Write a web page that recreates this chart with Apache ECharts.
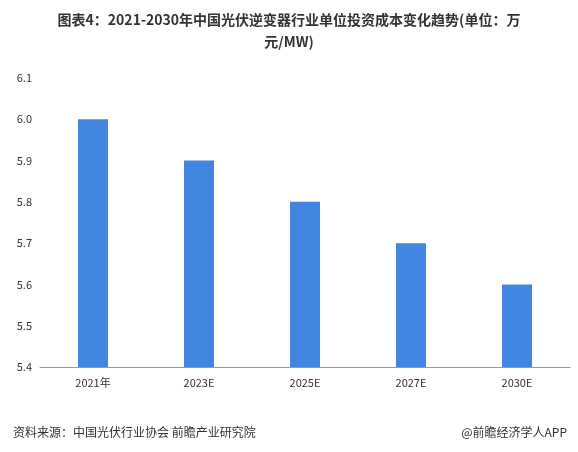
<!DOCTYPE html>
<html><head><meta charset="utf-8">
<script src="https://cdn.jsdelivr.net/npm/echarts@6/dist/echarts.min.js"></script>
<style>html,body{margin:0;padding:0;background:#fff}#c{width:578px;height:452px}</style>
</head><body><div id="c"></div>
<script>
const categories = ['2021年', '2023E', '2025E', '2027E', '2030E'];
const costValues = [6.0, 5.9, 5.8, 5.7, 5.6];
const yTicks = [5.4, 6.1, 0.1];

let chart = echarts.init(document.getElementById('c'));
chart.setOption({
    animation: false,
    textStyle: {fontFamily: 'Noto Sans CJK SC'},
    title: [{
        text: '图表4：2021-2030年中国光伏逆变器行业单位投资成本变化趋势(单位：万\n元/MW)',
        left: 'center', top: 4,
        textStyle: {fontSize: 14, fontWeight: 'bold', color: '#333', lineHeight: 22, align: 'center'}
    }, {
        text: '资料来源：中国光伏行业协会 前瞻产业研究院',
        left: 8, top: 421,
        textStyle: {fontSize: 12, fontWeight: 'normal', color: '#333'}
    }, {
        text: '@前瞻经济学人APP',
        right: 6, top: 421,
        textStyle: {fontSize: 12, fontWeight: 'normal', color: '#333'}
    }],
    grid: {left: 40, right: 8, top: 78, bottom: 85},
    xAxis: {
        type: 'category', data: categories,
        axisLine: {lineStyle: {color: '#999'}},
        axisTick: {show: false},
        axisLabel: {color: '#333', fontSize: 11, margin: 10}
    },
    yAxis: {
        type: 'value', min: yTicks[0], max: yTicks[1], interval: yTicks[2],
        axisLine: {show: false}, axisTick: {show: false},
        splitLine: {show: false},
        axisLabel: {color: '#333', fontSize: 11, formatter: v => v.toFixed(1)}
    },
    series: [{
        type: 'bar', data: costValues, barWidth: 30,
        itemStyle: {color: '#4186e0'}
    }]
});
</script></body></html>
